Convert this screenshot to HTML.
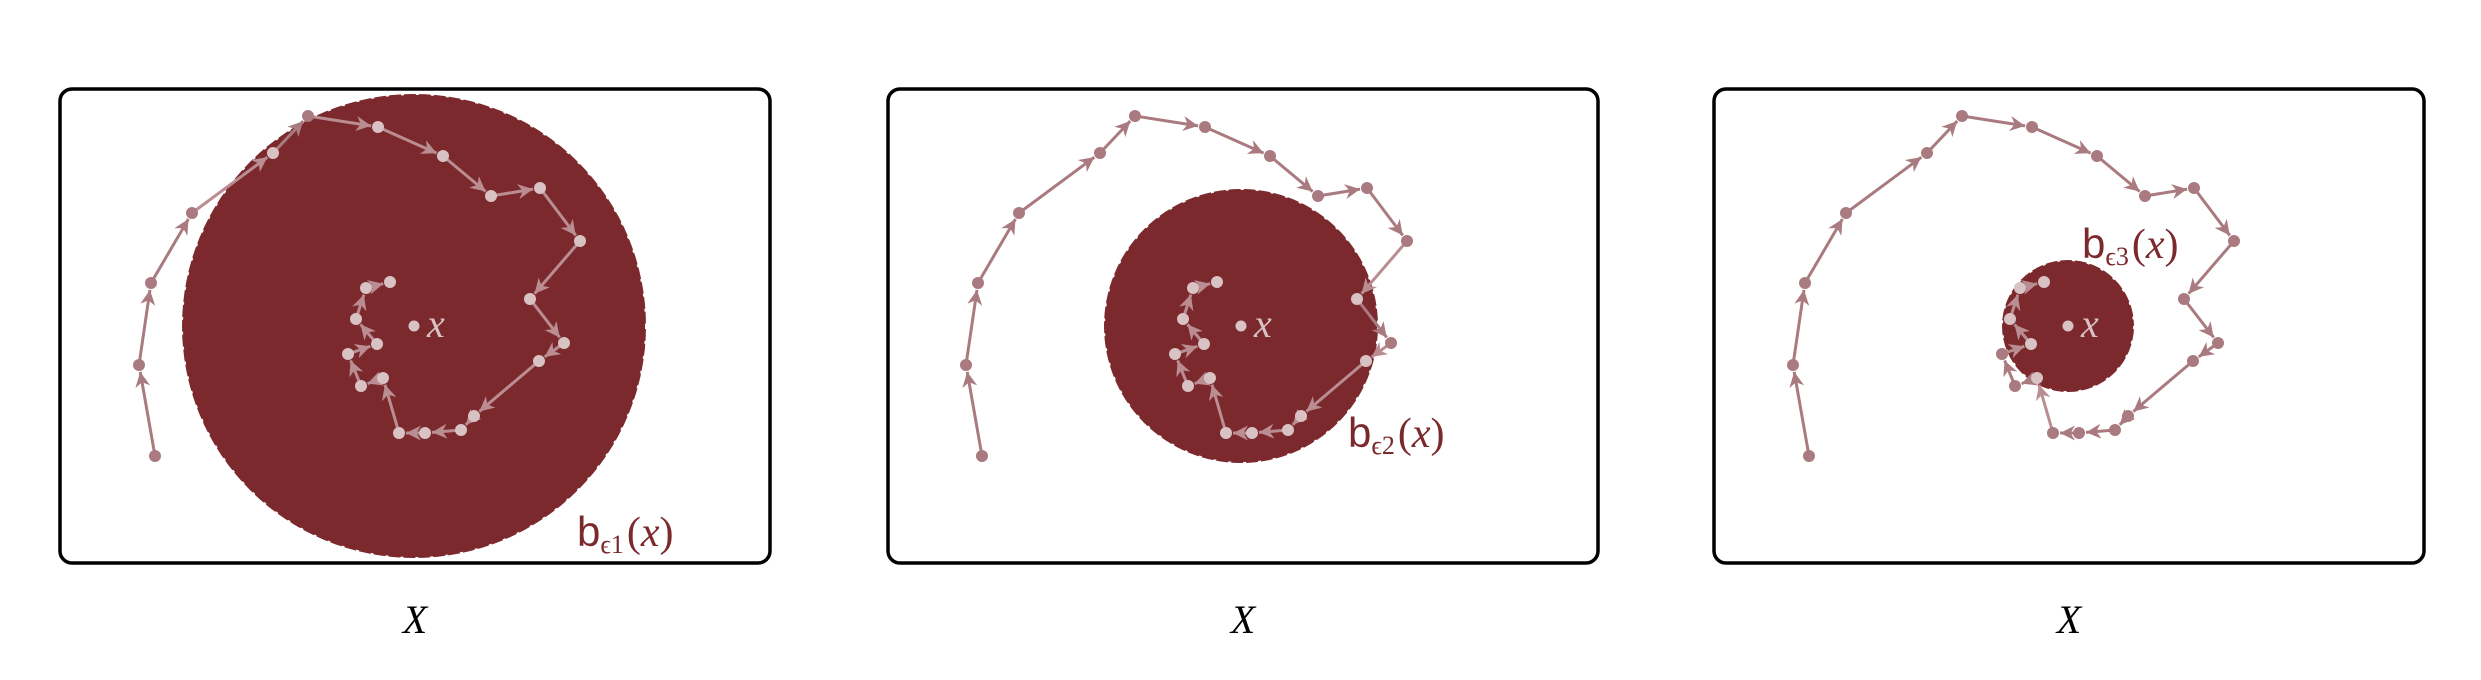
<!DOCTYPE html>
<html><head><meta charset="utf-8"><style>
html,body{margin:0;padding:0;background:#fff;width:2481px;height:680px;overflow:hidden}
svg{display:block}
</style></head><body>
<svg id="fig" width="2481" height="680" viewBox="0 0 2481 680" xmlns="http://www.w3.org/2000/svg">
<defs>
<marker id="ah" viewBox="0 0 10 10" refX="10" refY="5" markerWidth="5" markerHeight="5" orient="auto" markerUnits="strokeWidth">
<path d="M0,0 L10,5 L0,10 L3,5 z" fill="#a97a7f"/>
</marker>
<marker id="ahl" viewBox="0 0 10 10" refX="10" refY="5" markerWidth="5" markerHeight="5" orient="auto" markerUnits="strokeWidth">
<path d="M0,0 L10,5 L0,10 L3,5 z" fill="#b98d92"/>
</marker>
</defs>
</svg>
<script>
// path offsets relative to center x (px)
const pathDX = [-259,-275,-263,-222,-141,-106,-36,29,77,126,166,116,150,125,60,47,11,-15,-31,-53,-66,-37,-58,-48,-24];
const pathDY = [130,39,-43,-113,-173,-210,-199,-170,-130,-138,-85,-27,17,35,90,104,107,107,52,60,28,18,-7,-38,-44];
const panelLefts = [60,888,1714];
const centersX = [414,1241,2068];
const centerY = 326;
const radii = [232,137,66];
const labelSubs = ['1','2','3'];
const labelPos = [[577,546],[1348,447],[2082,258]];

const NS='http://www.w3.org/2000/svg';
const svg=document.getElementById('fig');
function mk(tag,attrs,parent){const e=document.createElementNS(NS,tag);for(const k in attrs)e.setAttribute(k,attrs[k]);(parent||svg).appendChild(e);return e;}

for(let p=0;p<3;p++){
  const g=mk('g',{});
  
  
  const bx=panelLefts[p];
  const box=mk('rect',{x:bx,y:89,width:710,height:474,rx:12,ry:12,fill:'none',stroke:'#000','stroke-width':3.5},g);
  
  
  const cx=centersX[p], cy=centerY, r=radii[p];
  const ball=mk('circle',{cx:cx,cy:cy,r:r,fill:'#7b292c'},g);
  
  
  const edge=mk('circle',{cx:cx,cy:cy,r:r,fill:'none',stroke:'#fff','stroke-width':2,'stroke-dasharray':'3 12'},g);
  
  
  const pts=pathDX.map((d,i)=>[cx+d,cy+pathDY[i]]);
  const inside=pt=>Math.hypot(pt[0]-cx,pt[1]-cy)<r;
  for(let i=0;i<pts.length-1;i++){
    const a=pts[i],b=pts[i+1];
    const L=Math.hypot(b[0]-a[0],b[1]-a[1]);
    const s=7/L;
    const ex=b[0]-(b[0]-a[0])*s, ey=b[1]-(b[1]-a[1])*s;
    const inn=inside(b);
    const ln=mk('line',{x1:a[0],y1:a[1],x2:ex,y2:ey,stroke:inn?'#b98d92':'#a97a7f','stroke-width':3,'marker-end':inn?'url(#ahl)':'url(#ah)'},g);
    
    
  }
  pts.forEach(pt=>{
    const c=mk('circle',{cx:pt[0],cy:pt[1],r:6,fill:inside(pt)?'#d8c2c4':'#a97a7f'},g);
    
    
  });
  const cd=mk('circle',{cx:cx,cy:cy,r:5.5,fill:'#d8c2c4'},g);
  
  
  const xl=mk('text',{x:cx+13,y:cy+11,'font-family':'"Liberation Serif",serif','font-style':'italic','font-size':40,fill:'#d8c2c4'},g);
  xl.textContent='x';
  
  
  const lp=labelPos[p];
  const bl=mk('text',{x:lp[0],y:lp[1],'font-family':'"Liberation Sans",sans-serif','font-size':42,fill:'#7b292c'},g);
  
  
  const t1=mk('tspan',{},bl);t1.textContent='b';
  const t2=mk('tspan',{'font-family':'"Liberation Serif",serif','font-size':26,dy:7},bl);t2.textContent='\u03f5'+labelSubs[p];
  const t3=mk('tspan',{'font-family':'"Liberation Serif",serif',dy:-7,dx:3},bl);t3.textContent='(';
  const t4=mk('tspan',{'font-family':'"Liberation Serif",serif','font-style':'italic'},bl);t4.textContent='x';
  const t5=mk('tspan',{'font-family':'"Liberation Serif",serif'},bl);t5.textContent=')';
  const X=mk('text',{x:bx+355,y:633,'text-anchor':'middle','font-family':'"Liberation Serif",serif','font-style':'italic','font-size':40,fill:'#000'},g);
  X.textContent='X';
  
  
}
</script>
</body></html>
